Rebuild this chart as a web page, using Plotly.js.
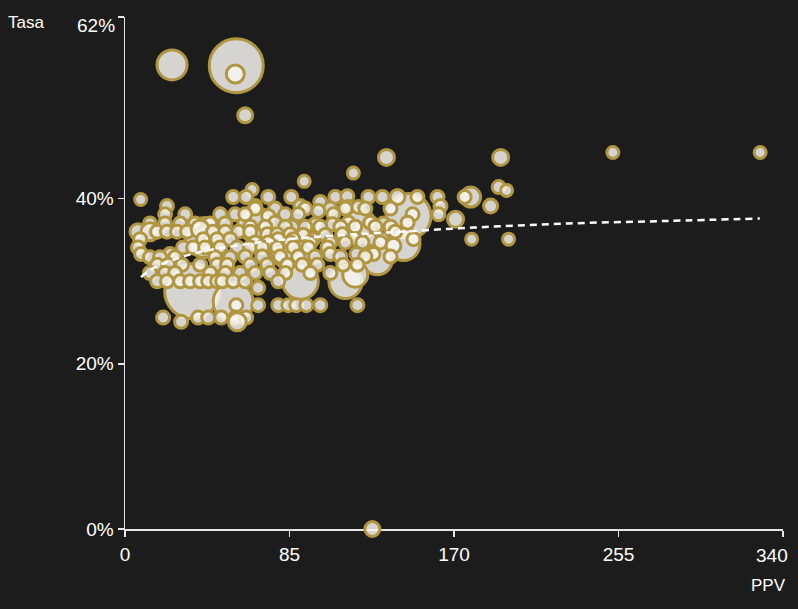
<!DOCTYPE html>
<html><head><meta charset="utf-8">
<script src="https://cdn.plot.ly/plotly-3.0.1.min.js"></script>
<style>html,body{margin:0;padding:0;background:#1c1c1c;}#chart{width:798px;height:609px;}</style>
</head><body><div id="chart"></div>
<script>
// PPV (x), Tasa in % (y), bubble diameter
const ppv = [
  // large bubbles
  34.7, 55.9, 41.4, 85.4, 90.6, 146.5, 143.9, 113.9, 130.4, 119.0, 67.3, 121.6,
  // isolated points
  24.3, 57.5, 57.0, 62.1, 135.1, 194.1, 252.1, 328.2, 127.8, 8.1, 179.1, 198.2, 193.1, 197.2, 188.9, 178.6, 170.8, 92.6, 118.0, 65.7,
  // ~40%
  55.9, 62.6, 74.0, 85.9, 108.7, 114.9, 125.8, 133.0, 140.8, 151.1, 161.5, 175.5,
  // ~39%
  21.7, 67.3, 90.6, 100.9, 115.4, 120.6, 163.0,
  // ~38.8%
  67.3, 77.6, 93.2, 106.1, 113.9, 124.2, 137.2,
  // ~38%
  20.7, 31.1, 49.2, 56.9, 62.1, 74.0, 82.8, 89.5, 99.9, 107.7, 126.8, 148.6, 162.0,
  // ~37%
  77.6, 86.4, 98.3, 107.2, 115.4, 126.8, 133.5, 146.0,
  12.9, 20.7, 28.5, 36.2, 44.0, 51.8,
  // ~36.6%
  64.7, 72.5, 82.8, 93.2, 100.9, 111.3, 119.0, 129.4, 137.2,
  // ~36%
  6.7, 12.9, 16.6, 21.7, 26.9, 32.1, 38.8, 45.5, 51.8, 58.5, 64.7, 73.5, 78.7, 85.4, 92.1, 103.5, 112.3, 139.7,
  // ~35%
  7.8, 40.4, 47.6, 54.3, 79.2, 87.0, 97.3, 119.0, 126.8, 133.0, 149.1,
  // ~34.7%
  67.3, 74.0, 85.4, 95.8, 106.1, 113.9, 122.7, 132.0,
  // ~34%
  6.7, 30.0, 35.2, 41.4, 49.2, 58.0, 64.7, 70.9, 78.7, 87.0, 94.7, 104.6, 138.7,
  // ~33%
  8.3, 23.3, 106.1, 119.6, 128.4,
  62.1, 70.9, 80.2, 89.5, 98.3, 111.3, 124.2, 137.2,
  12.9, 18.1, 25.9, 46.6, 54.3,
  // ~32%
  16.6, 22.3, 29.5, 38.8, 47.6, 52.8, 64.7, 73.5, 83.9, 91.6, 99.4, 112.8, 120.1,
  // ~31%
  59.5, 67.3, 75.1, 82.8, 95.8, 106.1,
  12.9, 20.7, 25.9, 44.0, 51.8,
  // ~30%
  16.6, 21.7, 28.5, 33.6, 38.8, 43.0, 47.6, 50.2, 55.9, 62.1, 79.2,
  // ~29%
  68.8,
  // ~27%
  57.5, 68.8, 79.2, 84.4, 88.5, 93.7, 100.9, 120.1,
  // ~25%
  19.7, 37.8, 43.0, 49.7, 57.0, 62.6, 29.0, 58.0
];
const tasa = [
  28.8, 27.5, 35.3, 33.9, 30.0, 37.9, 34.5, 29.9, 32.6, 30.8, 36.9, 36.9,
  56.2, 56.1, 55.1, 50.1, 45.0, 45.0, 45.6, 45.6, 0.0, 39.9, 35.1, 35.1, 41.4, 41.0, 39.1, 40.2, 37.5, 42.1, 43.1, 41.1,
  40.2, 40.2, 40.2, 40.2, 40.2, 40.3, 40.2, 40.2, 40.2, 40.2, 40.2, 40.2,
  39.1, 39.1, 39.1, 39.6, 39.0, 39.0, 39.1,
  38.8, 38.8, 38.8, 38.8, 38.8, 38.8, 38.8,
  38.1, 38.1, 38.1, 38.1, 38.1, 37.9, 38.1, 38.1, 38.5, 38.1, 37.1, 38.1, 38.1,
  37.1, 36.6, 36.9, 36.9, 37.1, 37.1, 37.0, 37.1,
  37.0, 37.0, 37.0, 37.0, 37.0, 37.0,
  36.6, 36.6, 36.6, 36.6, 36.6, 36.6, 36.6, 36.6, 36.6,
  36.0, 36.0, 36.0, 36.0, 36.0, 36.0, 36.3, 36.0, 36.0, 36.0, 36.0, 35.7, 35.7, 35.7, 35.6, 35.6, 35.7, 36.0,
  35.1, 35.1, 35.1, 35.1, 35.1, 35.1, 35.1, 35.1, 35.1, 35.1, 35.1,
  34.7, 34.7, 34.7, 34.7, 34.7, 34.7, 34.7, 34.7,
  34.1, 34.1, 34.1, 34.1, 34.1, 34.1, 34.1, 34.1, 34.1, 34.1, 34.1, 34.1, 34.3,
  33.3, 33.3, 33.3, 33.3, 33.3,
  33.0, 33.0, 33.0, 33.0, 33.0, 33.0, 33.0, 33.0,
  32.9, 32.9, 32.9, 32.9, 32.9,
  32.0, 32.0, 32.0, 32.0, 32.0, 32.0, 32.0, 32.0, 32.0, 32.0, 32.0, 32.0, 32.0,
  31.0, 31.0, 31.0, 31.0, 31.0, 31.0,
  31.0, 31.0, 31.0, 31.0, 31.0,
  30.0, 30.0, 30.0, 30.0, 30.0, 30.0, 30.0, 30.0, 30.0, 30.0, 30.0,
  29.2,
  27.1, 27.1, 27.1, 27.1, 27.1, 27.1, 27.1, 27.1,
  25.6, 25.6, 25.6, 25.6, 25.6, 25.6, 25.1, 25.1
];
const tamano = [
  55, 40, 40, 40, 36, 45, 33, 33, 30, 25, 35, 30,
  30, 54, 18, 15, 16, 16, 12, 12, 15, 12, 12, 12, 13, 12, 14, 20, 16, 12, 12, 12,
  13, 13, 13, 13, 13, 13, 13, 13, 15, 13, 13, 13,
  13, 13, 13, 13, 13, 13, 13,
  13, 13, 13, 13, 13, 13, 13,
  13, 13, 13, 13, 13, 13, 13, 13, 13, 13, 13, 13, 13,
  13, 13, 13, 13, 13, 13, 13, 13,
  13, 13, 13, 13, 13, 13,
  13, 13, 13, 13, 13, 13, 13, 13, 13,
  16, 18, 13, 13, 13, 13, 18, 13, 13, 13, 13, 13, 13, 13, 13, 13, 13, 13,
  13, 13, 13, 13, 13, 13, 13, 13, 13, 13, 13,
  13, 13, 13, 13, 13, 13, 13, 13,
  13, 13, 13, 13, 13, 13, 13, 13, 13, 13, 13, 13, 15,
  13, 13, 13, 13, 13,
  13, 13, 13, 13, 13, 13, 13, 13,
  13, 13, 13, 13, 13,
  13, 13, 13, 13, 13, 13, 13, 13, 13, 13, 13, 13, 13,
  13, 13, 13, 13, 13, 13,
  13, 13, 13, 13, 13,
  13, 13, 13, 13, 13, 13, 13, 13, 13, 13, 13,
  13,
  13, 13, 13, 13, 13, 13, 13, 13,
  13, 13, 13, 13, 13, 13, 13, 18
];
// dashed trend line
const trendPPV  = [8.3, 12, 18, 25, 33, 44, 57, 76, 100, 135, 180, 229, 280, 328];
const trendTasa = [30.5, 31.2, 32.0, 32.6, 33.2, 33.8, 34.3, 34.9, 35.4, 35.9, 36.5, 37.0, 37.3, 37.6];

const xTicks = [0, 85, 170, 255, 340];
const xTickText = ['0', '85', '170', '255', ''];
const yTicks = [0, 20, 40, 62];
const yTickText = ['0%', '20%', '40%', ''];

const FONT = 'Liberation Sans, Arial, sans-serif';
const axisCol = '#e6e6e6';

const traces = [
  {
    type: 'scatter', mode: 'markers', x: ppv, y: tasa, cliponaxis: false,
    marker: { size: tamano, sizemode: 'diameter', opacity: 1, color: 'rgba(247,245,240,0.85)',
              line: { color: '#b09640', width: 3 } },
    hoverinfo: 'skip'
  },
  {
    type: 'scatter', mode: 'lines', x: trendPPV, y: trendTasa, cliponaxis: false,
    line: { color: '#ffffff', width: 2.5, dash: '7px,5px', shape: 'spline' },
    hoverinfo: 'skip'
  }
];

const layout = {
  width: 798, height: 609,
  paper_bgcolor: '#1c1c1c', plot_bgcolor: '#1c1c1c',
  margin: { l: 125, r: 15, t: 17, b: 80, pad: 0 },
  showlegend: false,
  font: { family: FONT, color: '#ffffff' },
  xaxis: {
    range: [0, 340], tickvals: xTicks, ticktext: xTickText,
    showgrid: false, zeroline: false, showline: true, linecolor: axisCol, linewidth: 1.5,
    ticks: 'outside', ticklen: 6, tickwidth: 1.5, tickcolor: axisCol, ticklabelstandoff: 2,
    tickfont: { size: 19, color: '#ffffff', family: FONT }, layer: 'below traces', fixedrange: true
  },
  yaxis: {
    range: [0, 62], tickvals: yTicks, ticktext: yTickText,
    showgrid: false, zeroline: false, showline: true, linecolor: axisCol, linewidth: 1.5,
    ticks: 'outside', ticklen: 6, tickwidth: 1.5, tickcolor: axisCol,
    tickfont: { size: 19, color: '#ffffff', family: FONT }, layer: 'below traces', fixedrange: true
  },
  annotations: [
    { text: 'Tasa', xref: 'paper', yref: 'paper', x: -0.181, y: 0.989, xanchor: 'left', yanchor: 'middle',
      showarrow: false, font: { size: 17, color: '#ffffff', family: FONT } },
    { text: 'PPV', xref: 'paper', yref: 'paper', x: 1.008, y: -0.111, xanchor: 'right', yanchor: 'middle',
      showarrow: false, font: { size: 17, color: '#ffffff', family: FONT } },
    { text: '62%', xref: 'paper', yref: 'paper', x: -0.0125, y: 0.983, xanchor: 'right', yanchor: 'middle',
      showarrow: false, font: { size: 19, color: '#ffffff', family: FONT } },
    { text: '340', xref: 'paper', yref: 'paper', x: 0.9833, y: -0.0508, xanchor: 'center', yanchor: 'middle',
      showarrow: false, font: { size: 19, color: '#ffffff', family: FONT } }
  ]
};

Plotly.newPlot('chart', traces, layout, { staticPlot: true, displayModeBar: false });
</script>
</body></html>
